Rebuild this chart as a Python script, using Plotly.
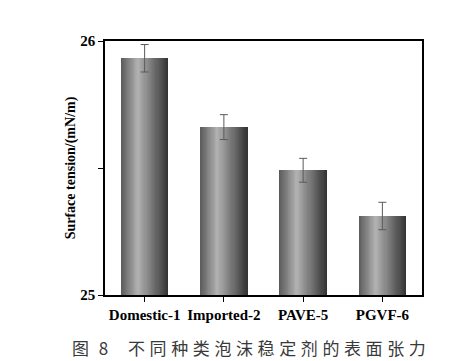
import plotly.graph_objects as go

categories = ["Domestic-1", "Imported-2", "PAVE-5", "PGVF-6"]
tension = [25.932, 25.661, 25.491, 25.311]
tension_err = [0.054, 0.049, 0.047, 0.054]
y_tick_vals = [25, 25.5, 26]
y_tick_text = ["25", "", "26"]
y_title = "Surface tension/(mN/m)"
caption_fig = "图 8"
caption_text = "不同种类泡沫稳定剂的表面张力"

W, H = 465, 361
BODY = 8  # default page margin of the browser
ML, MR, MT, MB = 105, 43, 41, 66
BAR_W = 0.6

# cylinder-like shading built from stacked overlay bars
I_LEFT, I_PEAK, I_RIGHT, U_PEAK = 90, 178, 50, 0.36
N = 28
fig = go.Figure()
for k in range(N):
    L = I_RIGHT + (I_PEAK - I_RIGHT) * k / N
    a = 0.0 if L <= I_LEFT else U_PEAK * (L - I_LEFT) / (I_PEAK - I_LEFT)
    b = U_PEAK + (1 - U_PEAK) * (I_PEAK - L) / (I_PEAK - I_RIGHT)
    c = int(round(L + (I_PEAK - I_RIGHT) / N / 2))
    fig.add_trace(go.Bar(
        x=categories, y=tension,
        width=BAR_W * (b - a), offset=-BAR_W / 2 + BAR_W * a,
        marker=dict(color=f"rgb({c},{c},{c})", line=dict(width=0)),
        showlegend=False, hoverinfo="skip",
    ))

fig.add_trace(go.Scatter(
    x=categories, y=tension, mode="markers",
    marker=dict(size=0.1, color="rgba(0,0,0,0)"),
    error_y=dict(type="data", array=tension_err, visible=True,
                 color="#5a5a5a", thickness=1, width=4),
    showlegend=False, hoverinfo="skip",
))

axis_font = dict(family="Liberation Serif", size=15, color="black")
fig.update_layout(
    width=W - BODY, height=H - BODY,
    margin=dict(l=ML - BODY, r=MR, t=MT - BODY, b=MB),
    paper_bgcolor="white", plot_bgcolor="white",
    barmode="overlay", bargap=0,
    showlegend=False,
    xaxis=dict(
        showline=True, linecolor="black", linewidth=1.6, mirror=True,
        ticks="outside", ticklen=5, tickwidth=1.4, tickcolor="black",
        showgrid=False, zeroline=False,
        tickfont=axis_font, range=[-0.5, 3.5],
        tickvals=categories, ticktext=[f"<b>{c}</b>" for c in categories],
    ),
    yaxis=dict(
        showline=True, linecolor="black", linewidth=1.6, mirror=True,
        ticks="outside", ticklen=5, tickwidth=1.4, tickcolor="black",
        showgrid=False, zeroline=False, range=[25, 26],
        tickvals=y_tick_vals, ticktext=[f"<b>{t}</b>" if t else "" for t in y_tick_text],
        tickfont=axis_font,
        title=dict(text=f"<b>{y_title}</b>", standoff=1,
                   font=dict(family="Liberation Serif", size=14, color="black")),
    ),
)

pw = W - ML - MR
ph = H - MT - MB
def px_to_paper_x(px):
    return (px - ML) / pw
def px_to_paper_y(py):
    return (H - MB - py) / ph

cap_font = dict(family="Noto Sans CJK SC", size=17, color="#3a3a3a")
cap_y = px_to_paper_y(347)
fig.add_annotation(
    x=px_to_paper_x(70), y=cap_y, xref="paper", yref="paper",
    xanchor="left", yanchor="middle", showarrow=False,
    text=f'<span style="letter-spacing:3px">{caption_fig}</span>', font=cap_font,
)
fig.add_annotation(
    x=px_to_paper_x(126), y=cap_y, xref="paper", yref="paper",
    xanchor="left", yanchor="middle", showarrow=False,
    text=f'<span style="letter-spacing:4.6px">{caption_text}</span>', font=cap_font,
)

fig.write_html("out.html")
